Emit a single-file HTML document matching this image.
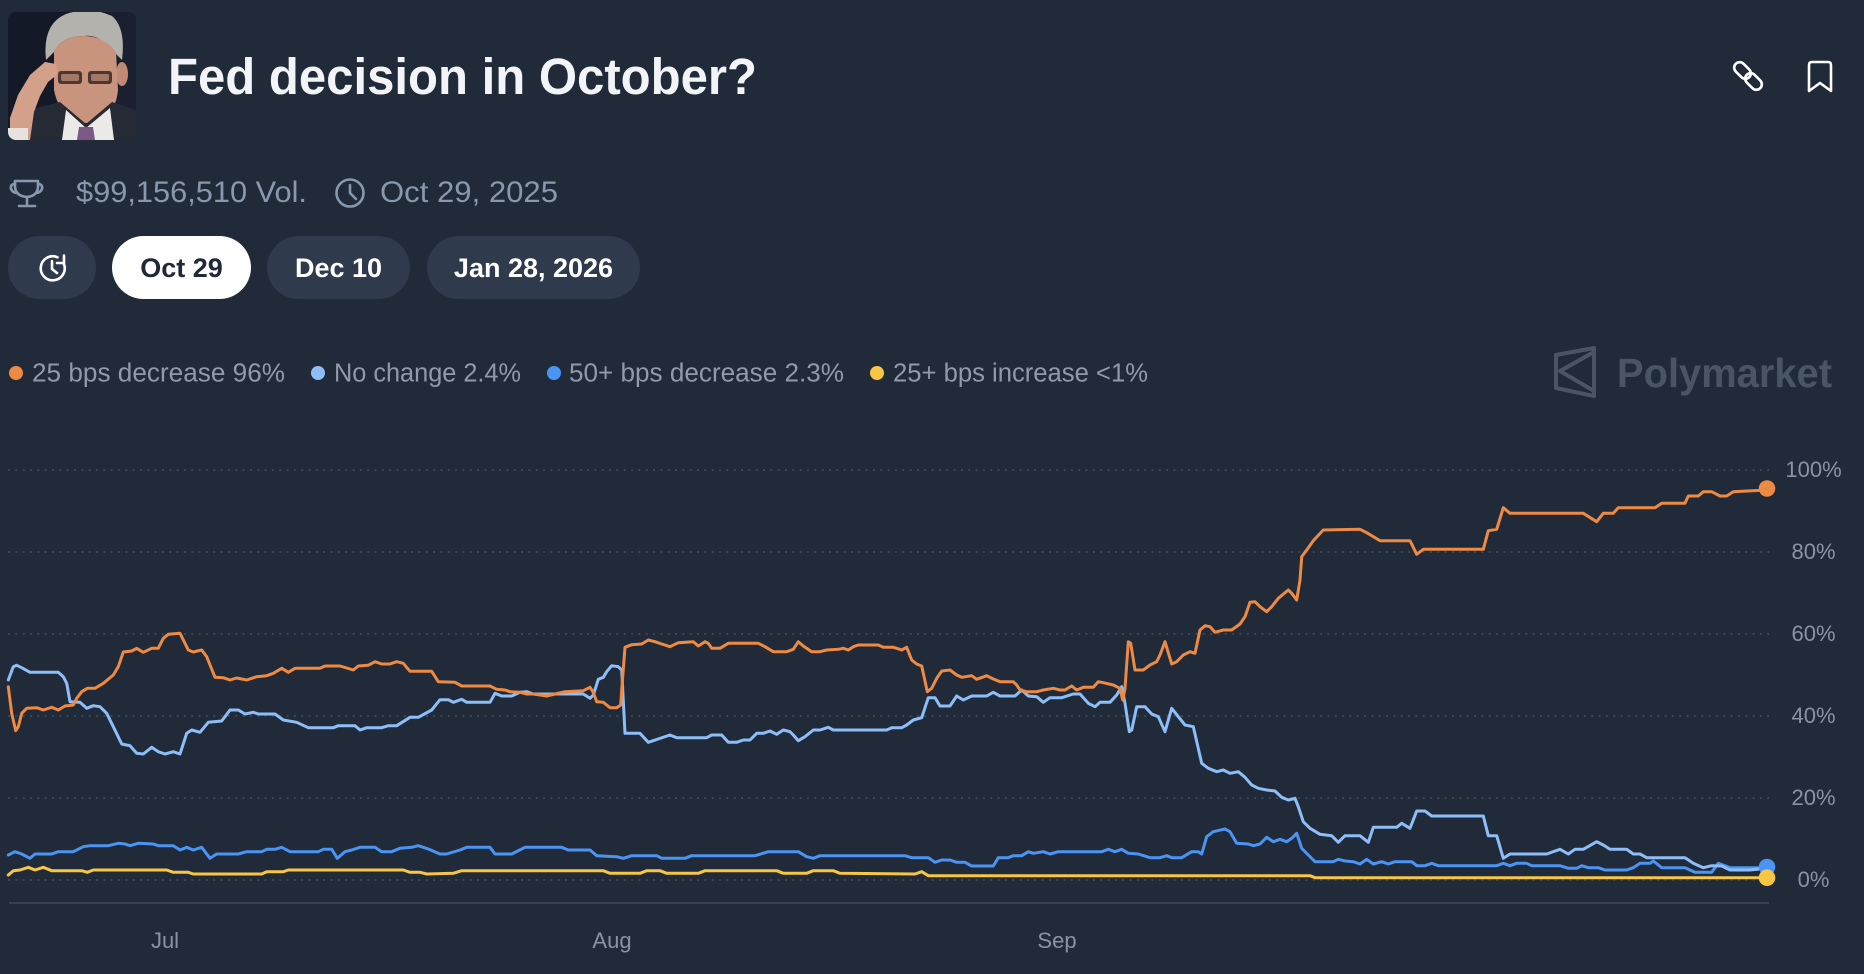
<!DOCTYPE html>
<html>
<head>
<meta charset="utf-8">
<style>
  html,body{margin:0;padding:0;background:#202a39;}
  body{width:1864px;height:974px;overflow:hidden;}
  svg{display:block;}
  text{font-family:"Liberation Sans",Arial,sans-serif;}
</style>
</head>
<body>
<svg width="1864" height="974" viewBox="0 0 1864 974" xmlns="http://www.w3.org/2000/svg">
  <rect x="0" y="0" width="1864" height="974" fill="#202a39"/>

  <!-- Photo -->
  <defs>
    <clipPath id="ph"><rect x="8" y="12" width="128" height="128" rx="8" ry="8"/></clipPath>
  </defs>
  <g clip-path="url(#ph)">
    <rect x="8" y="12" width="128" height="128" fill="#131926"/>
    <rect x="110" y="12" width="26" height="128" fill="#1a2030"/>
    <!-- hair -->
    <path d="M46,60 Q42,24 66,14 Q90,6 112,16 Q126,28 122,60 L114,52 Q100,34 84,36 Q62,36 54,52 Z" fill="#b4b2ac"/>
    <!-- ear -->
    <ellipse cx="122" cy="74" rx="6" ry="12" fill="#c08a74"/>
    <!-- face -->
    <path d="M54,52 Q62,36 84,36 Q104,36 116,52 L118,90 Q116,112 100,120 Q86,126 72,120 Q58,110 54,90 Z" fill="#c8947e"/>
    <!-- suit -->
    <path d="M8,140 L20,112 L60,102 L86,124 L112,102 L136,110 L136,140 Z" fill="#262a35"/>
    <!-- shirt -->
    <path d="M66,110 L86,128 L110,108 L114,140 L62,140 Z" fill="#eceae6"/>
    <!-- tie -->
    <path d="M79,127 L93,127 L95,140 L77,140 Z" fill="#7b5985"/>
    <!-- glasses -->
    <rect x="58" y="71" width="24" height="13" rx="3" fill="#3e2d28" opacity="0.9"/>
    <rect x="88" y="71" width="24" height="13" rx="3" fill="#3e2d28" opacity="0.9"/>
    <rect x="61" y="74" width="18" height="7" rx="2" fill="#a57766"/>
    <rect x="91" y="74" width="18" height="7" rx="2" fill="#a57766"/>
    <!-- hand -->
    <path d="M10,140 L10,118 L18,95 L30,75 L45,62 L56,64 L58,74 L48,82 L40,96 L34,112 L30,140 Z" fill="#d3a08a"/>
    <rect x="8" y="128" width="20" height="12" fill="#e6e3df"/>
  </g>

  <!-- Title -->
  <text x="168" y="94" font-size="51" font-weight="bold" fill="#f2f4f7" textLength="589" lengthAdjust="spacingAndGlyphs">Fed decision in October?</text>

  <!-- Top right icons -->
  <g fill="none" stroke="#ffffff" stroke-width="2.6" stroke-linecap="round" stroke-linejoin="round">
    <rect x="1733" y="65" width="19" height="11" rx="5.5" transform="rotate(45 1742.5 70.5)"/>
    <rect x="1744" y="76" width="19" height="11" rx="5.5" transform="rotate(45 1753.5 81.5)"/>
    <path d="M1812,62 H1828 Q1831,62 1831,65 V91 L1820,83 L1809,91 V65 Q1809,62 1812,62 Z"/>
  </g>

  <!-- Meta row -->
  <g fill="none" stroke="#8898ad" stroke-width="2.6" stroke-linecap="round" stroke-linejoin="round">
    <path d="M15,181 H38 V186 Q38,196 27,197 Q15,196 15,186 Z"/>
    <path d="M15,184 Q10,184 11,189 Q13,193 17,193"/>
    <path d="M38,184 Q43,184 42,189 Q40,193 36,193"/>
    <path d="M27,197 V204"/>
    <path d="M19,206 H35"/>
    <circle cx="350" cy="193" r="13.5"/>
    <path d="M350,185 V193 L356,199"/>
  </g>
  <text x="76" y="202" font-size="30" fill="#8898ad" textLength="231" lengthAdjust="spacingAndGlyphs">$99,156,510 Vol.</text>
  <text x="380" y="202" font-size="30" fill="#8898ad" textLength="178" lengthAdjust="spacingAndGlyphs">Oct 29, 2025</text>

  <!-- Buttons -->
  <rect x="8" y="236" width="88" height="63" rx="31.5" fill="#2f3b4d"/>
  <g fill="none" stroke="#ffffff" stroke-width="2.6" stroke-linecap="round" stroke-linejoin="round">
    <path d="M63.5,263 A12,12 0 1 1 57.5,257.3"/>
    <path d="M64,255.5 V263 H57"/>
    <path d="M52,261 V269 L57,273"/>
  </g>
  <rect x="112" y="236" width="139" height="63" rx="31.5" fill="#ffffff"/>
  <text x="181.5" y="277" font-size="27" font-weight="bold" fill="#1f2938" text-anchor="middle">Oct 29</text>
  <rect x="267" y="236" width="143" height="63" rx="31.5" fill="#2f3b4d"/>
  <text x="338.5" y="277" font-size="27" font-weight="bold" fill="#ffffff" text-anchor="middle">Dec 10</text>
  <rect x="427" y="236" width="213" height="63" rx="31.5" fill="#2f3b4d"/>
  <text x="533.5" y="277" font-size="27" font-weight="bold" fill="#ffffff" text-anchor="middle">Jan 28, 2026</text>

  <!-- Legend -->
  <circle cx="16" cy="373" r="7" fill="#ee8a42"/>
  <text x="32" y="381.5" font-size="25.5" fill="#8f9aab" textLength="253" lengthAdjust="spacingAndGlyphs">25 bps decrease 96%</text>
  <circle cx="318" cy="373" r="7" fill="#8ebef8"/>
  <text x="334" y="381.5" font-size="25.5" fill="#8f9aab" textLength="187" lengthAdjust="spacingAndGlyphs">No change 2.4%</text>
  <circle cx="554" cy="373" r="7" fill="#4a94f3"/>
  <text x="569" y="381.5" font-size="25.5" fill="#8f9aab" textLength="275" lengthAdjust="spacingAndGlyphs">50+ bps decrease 2.3%</text>
  <circle cx="877" cy="373" r="7" fill="#f7c645"/>
  <text x="893" y="381.5" font-size="25.5" fill="#8f9aab" textLength="255" lengthAdjust="spacingAndGlyphs">25+ bps increase &lt;1%</text>

  <!-- Polymarket watermark -->
  <g fill="none" stroke="#4a5564" stroke-width="4" stroke-linejoin="round">
    <path d="M1556,355 L1594,348 L1594,396 L1556,388 Z"/>
    <path d="M1594,352 L1560,371 L1594,391"/>
  </g>
  <text x="1617" y="387" font-size="41" font-weight="bold" fill="#4a5564" textLength="215" lengthAdjust="spacingAndGlyphs">Polymarket</text>

  <!-- Gridlines -->
  <g stroke="#3b4656" stroke-width="2" stroke-dasharray="2 5.33">
    <line x1="8" y1="470" x2="1770" y2="470"/>
    <line x1="8" y1="552" x2="1770" y2="552"/>
    <line x1="8" y1="634" x2="1770" y2="634"/>
    <line x1="8" y1="716" x2="1770" y2="716"/>
    <line x1="8" y1="798" x2="1770" y2="798"/>
    <line x1="8" y1="880" x2="1770" y2="880"/>
  </g>
  <line x1="9" y1="903" x2="1769" y2="903" stroke="#364151" stroke-width="2"/>

  <!-- Y labels -->
  <g font-size="22" fill="#8a939f" text-anchor="middle">
    <text x="1813.5" y="477">100%</text>
    <text x="1813.5" y="559">80%</text>
    <text x="1813.5" y="641">60%</text>
    <text x="1813.5" y="723">40%</text>
    <text x="1813.5" y="805">20%</text>
    <text x="1813.5" y="887">0%</text>
  </g>
  <!-- X labels -->
  <g font-size="22" fill="#8a939f" text-anchor="middle">
    <text x="165" y="948">Jul</text>
    <text x="612" y="948">Aug</text>
    <text x="1057" y="948">Sep</text>
  </g>

  <!-- Series -->
  <g fill="none" stroke-width="3" stroke-linejoin="round" stroke-linecap="round">
    <!-- yellow -->
    <polyline stroke="#f7c645" points="8.3,875 13.3,870.7 20,870 28.3,867.3 35,870 43.3,867.3 51.7,870.7 81.7,870.7 87.3,872.3 93.3,870 166.7,870 173.3,872.3 188.3,872.3 193.3,874 261.7,874 266.7,871.7 283.3,871.7 288.3,870 403.3,870 410,872.3 420,872.3 426.7,874 453.3,873.3 461.7,870.7 603.3,870.7 610,873.3 640,873.3 646.7,870.7 660,870.7 666.7,873.3 698.3,873.3 705,870.7 776.7,870.7 783.3,873.3 806.7,873.3 813.3,870.7 833.3,870.7 840,873.3 915,874 921.7,871.7 928.3,875.7 1310,875.7 1315,877.7 1767,877.7"/>
    <!-- blue 50+ -->
    <polyline stroke="#4a94f3" points="8.3,855 15,851.7 21.7,854 30,858.3 35,854 51.7,854 58.3,851.7 73.3,851.7 83.3,846.7 90,845.7 108.3,845.7 118.3,843.3 125,844 130,845.7 138.3,843.3 153.3,844 158.3,845.7 173.3,845.7 180,850 186.7,847.3 193.3,850 201.7,847.3 205,851.7 210,858.3 216.7,854 238.3,854 246.7,851.7 261.7,851.7 266.7,849.3 275,849.3 281.7,847.3 290,851.7 318.3,851.7 323.3,849.3 331.7,849.3 337.3,858.3 345,851.7 351.7,850 360,847.3 375,847.3 381.7,851.7 391.7,851.7 400,848.3 411.7,847.3 418.3,845.7 428.3,849 440,854 446.7,854 460,850 466.7,847.3 490,847.3 495,854 511.7,854 525,847.3 561.7,847.3 568.3,850 590,850 596.7,855.7 616.7,856.7 623.3,858.3 631.7,855.7 656.7,855.7 661.7,858.3 685,858.3 691.7,855.7 755,855.7 768.3,851.7 798.3,851.7 806.7,856.7 813.3,858.3 820,855.7 905,855.7 911.7,857.7 928.3,857.7 935,862.3 941.7,860 950,860 956.7,862.3 965,862.3 971.7,866 993.3,866 998.3,857.7 1008.3,857.7 1013.3,855.7 1021.7,855.7 1028.3,851.7 1033.3,853.3 1043.3,851.7 1050,854 1058.3,851.7 1101.7,851.7 1108.3,849.3 1115,851.7 1121.7,849.3 1128.3,853.3 1138.3,854 1150,857.7 1160,857.7 1166.7,855.7 1171.7,857.7 1181.7,857.7 1191.7,851.7 1198.3,851.7 1201.7,854 1206.7,836.7 1213.3,831.7 1225,829 1230,831.7 1236.7,843.3 1248.3,844 1253.3,845.7 1260,844 1266.7,837.3 1273.3,841.7 1280,839.3 1286.7,841.7 1291.7,838.3 1296.7,833.3 1301.7,848.3 1308.3,855 1315,861.7 1333.3,861.7 1338.3,859.3 1345,861 1353.3,861.7 1360,864 1366.7,859.3 1373.3,864 1381.7,861.7 1388.3,864 1395,861.7 1411.7,861.7 1416.7,865.7 1425,865.7 1431.7,863.3 1438.3,865.7 1496.7,865.7 1503.3,863.3 1510,865.7 1516.7,863.3 1526.7,863.3 1531.7,865.7 1560,865.7 1568.3,868.3 1576.7,868.3 1581.7,865.7 1588.3,867.7 1598.3,867.7 1605,870 1626.7,870 1633.3,867.7 1640,863.3 1650,863.3 1653.3,861 1661.7,867.7 1685,867.7 1695,872.3 1711.7,872.3 1718.3,863.3 1730,867.7 1767,867.7"/>
    <!-- light blue no change -->
    <polyline stroke="#8ebef8" points="8.3,680 13.3,666.7 16.7,665.3 21.7,667.7 30,672.3 58.3,672.3 63.3,676.7 66.7,683.3 70,701.7 80,702.3 86.7,708.3 93.3,705.7 100,706.7 106.7,713.3 113.3,726.7 121.7,744 130,745.7 136.7,753.3 143.3,754 151.7,747.3 158.3,751.7 165,754 173.3,751.7 180,754 186.7,733.3 191.7,730 200,732.3 208.3,722.3 221.7,721 230,710 238.3,710 245,714 253.3,712.3 258.3,714 275,714 283.3,720 296.7,722.3 308.3,727.7 333.3,727.7 338.3,725.7 355,725.7 360,730 366.7,727.7 381.7,727.7 388.3,725.7 396.7,725.7 410,717.3 418.3,717.3 431.7,710 440,699.7 448.3,699.7 453.3,702.3 461.7,699.3 466.7,702.3 490,702.3 495,693.3 501.7,696 511.7,696 520,692.3 526.7,691.7 533.3,694 583.3,694 590,698.3 593.3,695 598.3,679.3 603.3,677.3 606.7,671.7 611.7,665.7 618.3,666.7 621.7,670 625,733.3 640,733.3 648.3,742.3 670,735 676.7,737.7 706.7,737.7 711.7,735 721.7,735 728.3,742.3 736.7,742.3 743.3,740 750,740 756.7,733.3 763.3,733.3 770,731 776.7,734.3 783.3,730 790,731.7 793.3,735 798.3,740.7 805,736.7 813.3,730 820,730 828.3,727.3 833.3,730 886.7,730 891.7,727.7 901.7,727.7 906.7,725 913.3,720 921.7,717.7 928.3,697.7 935,697.7 940,706 950,706 956.7,696 963.3,700 971.7,696 986.7,696 993.3,692.3 1000,696 1015,696 1021.7,690 1028.3,696 1036.7,696.7 1043.3,702.3 1050,697.7 1061.7,697.7 1073.3,694 1080,694 1088.3,703.3 1095,706.7 1100,702.3 1110,702.3 1116.7,695 1121.7,686.7 1125,703.3 1129.3,731.7 1131.7,730 1136.7,706.7 1145,706.7 1151.7,714 1158.3,716.7 1165,731.7 1171.7,708.3 1178.3,716.7 1185,725 1193.3,726.7 1201.7,763.3 1208.3,768.3 1216.7,771.7 1223.3,770 1230,773.3 1238.3,771.7 1245,777.3 1251.7,785 1258.3,788.3 1266.7,790 1275,791 1281.7,797.3 1288.3,800 1295,798.3 1298.3,806.7 1303.3,821.7 1310,828.3 1320,834.3 1331.7,835.7 1338.3,842.3 1345,835.7 1360,835.7 1368.3,842.3 1373.3,827.3 1396.7,827.3 1401.7,823.3 1410,828.3 1416.7,811 1425,811 1431.7,816 1483.3,816 1488.3,835.7 1496.7,835.7 1503.3,858.3 1510,854 1546.7,854 1560,849.3 1568.3,854 1575,849.3 1583.3,849.3 1596.7,841.7 1603.3,845 1610,849.3 1626.7,849.3 1633.3,854 1640,854 1646.7,857.7 1685,857.7 1693.3,863.3 1703.3,867.7 1711.7,865.7 1721.7,866 1730,870 1750,870 1767,868.3"/>
    <!-- orange 25 bps decrease -->
    <polyline stroke="#ee8a42" points="8.3,686.7 11.7,713.3 15.7,730.7 18.3,726.7 21.7,713.3 26.7,708.3 36.7,707.7 43.3,710 51.7,707.3 58.3,710 65,706 73.3,705 76.7,698.3 81.7,691.7 87.3,688.3 95,688.3 103.3,683.3 113.3,675 118.3,666.7 123.3,652 131.7,651 136.7,648.3 143.3,652.3 151.7,648.3 158.3,648.3 163.3,638.3 168.3,634.3 180,633.3 188.3,650 193.3,652 201.7,650 206.7,656.7 215,677.3 223.3,677.7 230,680 236.7,678 246.7,680 256.7,676.7 266.7,675.7 273.3,673.3 281.7,668.3 288.3,672.3 295,668.3 320,668.3 325,666 340,666 353.3,670 358.3,666 368.3,665.3 375,661.7 381.7,664 390,664 396.7,661.7 403.3,663.3 410,671.3 431.7,671.3 438.3,681.7 455,682.3 461.7,686 490,686 496.7,689.3 505,690 510,691.7 520,692.3 526.7,694 533.3,694 546.7,696 555,694 565,691.7 583.3,690.7 590,687.3 593.3,692.3 596.7,701.7 603.3,702.3 610,707.7 616.7,707.7 620.7,705 621.7,690 625,647.3 631.7,644.7 641.7,644 648.3,640 655,641.7 661.7,644 670,646.7 678.3,642.7 693.3,641.7 698.3,646 705,641.7 708.3,643.3 711.7,648.3 720,648.3 728.3,643.3 758.3,643.3 765,646.7 773.3,651.7 786.7,651.7 793.3,649.3 798.3,641.7 803.3,646 811.7,651.7 820,651.7 826.7,650 838.3,649.3 843.3,648.3 848.3,650 853.3,646.7 858.3,645 878.3,645 883.3,647.3 893.3,647.3 896.7,648.3 901.7,650 906.7,647.3 911.7,660 916.7,664 921.7,666 923.3,673.3 927.3,691.7 931.7,688.3 936.7,678.3 941.7,671 950,670 956.7,675 961.7,677.3 971.7,675.7 976.7,679.3 986.7,675.7 993.3,679 1000,681.7 1013.3,681.7 1016.7,685 1020,690 1026.7,691.7 1036.7,691.7 1043.3,690 1053.3,688.3 1060,690 1065,690 1071.7,686 1076.7,690 1083.3,687.3 1093.3,687.3 1098.3,681.7 1103.3,682.7 1113.3,685 1120,688.3 1122.7,700 1125,688.3 1128.3,641.7 1130.7,643.3 1135,670 1143.3,670 1150,665 1156.7,661.7 1160,655 1165,641.7 1171.7,664 1176.7,661.7 1183.3,655 1190,651.7 1195,653.3 1200,630 1205,625.7 1210,626.7 1215,632.3 1223.3,630 1231.7,630 1240,624 1245,616.7 1250,602.3 1255,601.7 1260,606.7 1266.7,611.7 1271.7,606.7 1278.3,598.3 1288.3,590 1291.7,593.3 1296.7,600 1300,580 1301.7,556.7 1306.7,550 1313.3,540.7 1323.3,530 1360,529.3 1366.7,532.7 1380,540.7 1410,540.7 1416.7,554.3 1423.3,549.3 1483.3,549.3 1488.3,530.7 1496.7,529.3 1503.3,507.7 1510,513.3 1583.3,513.3 1596.7,521.7 1603.3,513.3 1613.3,513.3 1618.3,507.7 1655,507.7 1661.7,503.3 1685,503.3 1688.3,496 1698.3,496 1703.3,491.7 1711.7,491.7 1720,496 1726.7,496 1733.3,491.7 1767,490"/>
  </g>
  <!-- End dots -->
  <circle cx="1767" cy="488.5" r="8.3" fill="#ee8a42"/>
  <circle cx="1767" cy="867" r="8.3" fill="#4a94f3"/>
  <circle cx="1767" cy="877.7" r="8.3" fill="#f7c645"/>
</svg>
</body>
</html>
